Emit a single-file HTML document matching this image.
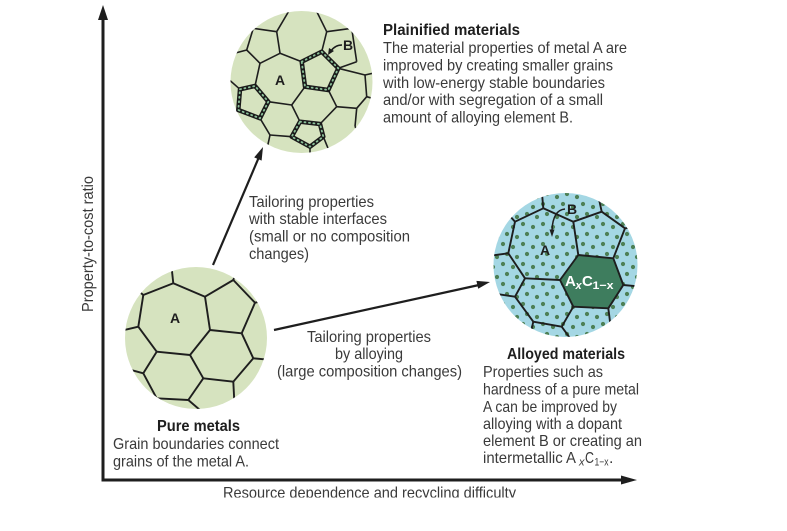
<!DOCTYPE html>
<html><head><meta charset="utf-8">
<style>
html,body{margin:0;padding:0;background:#fff;}
svg{display:block;}
text{font-family:"Liberation Sans Narrow","Liberation Sans",sans-serif;}
.b{font-size:16px;fill:#3a3a3a;}
.h{font-size:16px;font-weight:bold;fill:#1e1e1e;}
.g{font-weight:bold;font-size:14px;fill:#1e1e1e;}
</style></head>
<body>
<svg width="787" height="531" viewBox="0 0 787 531" xmlns="http://www.w3.org/2000/svg">
<defs>
<clipPath id="cp"><circle cx="196" cy="338" r="71"/></clipPath>
<clipPath id="cq"><circle cx="301.5" cy="82" r="71"/></clipPath>
<clipPath id="ca"><circle cx="565.5" cy="265" r="72"/></clipPath>
<pattern id="dots" width="20" height="20" patternUnits="userSpaceOnUse">
<circle cx="3" cy="4" r="2.1" fill="#4d8055"/>
<circle cx="13" cy="7" r="2.1" fill="#4d8055"/>
<circle cx="7" cy="14" r="2.1" fill="#4d8055"/>
<circle cx="17" cy="17" r="2.1" fill="#4d8055"/>
</pattern>
</defs>

<!-- axes -->
<g stroke="#1e1e1e" stroke-width="3" fill="none">
<polyline points="103,18 103,480 624,480"/>
</g>
<polygon points="103,5 98,20 108,20" fill="#1e1e1e"/>
<polygon points="637,480 621,475.5 621,484.5" fill="#1e1e1e"/>

<text class="b" transform="translate(93,312) rotate(-90)" x="0" y="0" textLength="136" lengthAdjust="spacingAndGlyphs">Property-to-cost ratio</text>
<text class="b" x="223" y="498" textLength="293" lengthAdjust="spacingAndGlyphs">Resource dependence and recycling difficulty</text>
<rect x="0" y="497.5" width="787" height="40" fill="#fff"/>

<!-- arrows -->
<g stroke="#1e1e1e" stroke-width="2.2">
<line x1="213" y1="265" x2="259" y2="157"/>
<line x1="274" y1="330" x2="479" y2="285"/>
</g>
<polygon points="263,147 261.6,160.6 254.2,157.4" fill="#1e1e1e"/>
<polygon points="490,282 478.2,288.7 476.4,280.9" fill="#1e1e1e"/>

<!-- pure metal circle -->
<circle cx="196" cy="338" r="71" fill="#d6e3bf"/>
<g clip-path="url(#cp)" stroke="#1e1e1e" stroke-width="1.9" fill="none" stroke-linejoin="round">
<line x1="173.3" y1="283.3" x2="171" y2="262"/>
<line x1="173.3" y1="283.3" x2="205" y2="296.7"/>
<line x1="173.3" y1="283.3" x2="143.3" y2="295"/>
<line x1="143.3" y1="295" x2="135" y2="288"/>
<line x1="205" y1="296.7" x2="233.3" y2="280"/>
<line x1="233.3" y1="280" x2="238" y2="268"/>
<line x1="233.3" y1="280" x2="255" y2="302.7"/>
<line x1="255" y1="302.7" x2="268" y2="300"/>
<line x1="255" y1="302.7" x2="241.7" y2="333.3"/>
<line x1="241.7" y1="333.3" x2="210" y2="330"/>
<line x1="210" y1="330" x2="205" y2="296.7"/>
<line x1="210" y1="330" x2="190" y2="355"/>
<line x1="190" y1="355" x2="156.7" y2="351.7"/>
<line x1="156.7" y1="351.7" x2="138.3" y2="326.7"/>
<line x1="138.3" y1="326.7" x2="143.3" y2="295"/>
<line x1="138.3" y1="326.7" x2="120" y2="331"/>
<line x1="241.7" y1="333.3" x2="253.3" y2="358.3"/>
<line x1="253.3" y1="358.3" x2="272" y2="360"/>
<line x1="253.3" y1="358.3" x2="233.3" y2="381.7"/>
<line x1="233.3" y1="381.7" x2="203.3" y2="378.3"/>
<line x1="233.3" y1="381.7" x2="235" y2="415"/>
<line x1="203.3" y1="378.3" x2="190" y2="355"/>
<line x1="203.3" y1="378.3" x2="188.3" y2="400"/>
<line x1="188.3" y1="400" x2="207" y2="416"/>
<line x1="188.3" y1="400" x2="156.7" y2="398.3"/>
<line x1="156.7" y1="398.3" x2="143.3" y2="373.3"/>
<line x1="143.3" y1="373.3" x2="156.7" y2="351.7"/>
<line x1="143.3" y1="373.3" x2="120" y2="367"/>
</g>
<text class="g" x="175" y="323" text-anchor="middle">A</text>

<!-- plainified circle -->
<circle cx="301.5" cy="82" r="71" fill="#d6e3bf"/>
<g clip-path="url(#cq)" stroke="#1e1e1e" stroke-width="1.6" fill="none" stroke-linejoin="round">
<line x1="253.3" y1="28.3" x2="276.7" y2="31.7"/>
<line x1="253.3" y1="28.3" x2="248" y2="20"/>
<line x1="276.7" y1="31.7" x2="280" y2="53.3"/>
<line x1="280" y1="53.3" x2="260" y2="63.3"/>
<line x1="260" y1="63.3" x2="246.7" y2="50"/>
<line x1="246.7" y1="50" x2="253.3" y2="28.3"/>
<line x1="246.7" y1="50" x2="228" y2="55"/>
<line x1="276.7" y1="31.7" x2="288.3" y2="12"/>
<line x1="288.3" y1="12" x2="288.3" y2="5"/>
<line x1="326.7" y1="31.7" x2="315" y2="8"/>
<line x1="326.7" y1="31.7" x2="351.7" y2="28.3"/>
<line x1="351.7" y1="28.3" x2="360" y2="22"/>
<line x1="326.7" y1="31.7" x2="321.7" y2="51.7"/>
<line x1="351.7" y1="28.3" x2="356.7" y2="61.7"/>
<line x1="356.7" y1="61.7" x2="338.3" y2="68.3"/>
<line x1="280" y1="53.3" x2="301.7" y2="61.7"/>
<line x1="338.3" y1="68.3" x2="365" y2="75"/>
<line x1="365" y1="75" x2="378" y2="72"/>
<line x1="365" y1="75" x2="366.7" y2="96.7"/>
<line x1="366.7" y1="96.7" x2="378" y2="100"/>
<line x1="366.7" y1="96.7" x2="356.7" y2="108.3"/>
<line x1="356.7" y1="108.3" x2="336.7" y2="106.7"/>
<line x1="336.7" y1="106.7" x2="328.3" y2="90"/>
<line x1="336.7" y1="106.7" x2="320" y2="124"/>
<line x1="356.7" y1="108.3" x2="355" y2="126.7"/>
<line x1="355" y1="126.7" x2="362" y2="135"/>
<line x1="323.3" y1="136.7" x2="332" y2="158"/>
<line x1="305" y1="86.7" x2="291.7" y2="105"/>
<line x1="291.7" y1="105" x2="268.3" y2="101.7"/>
<line x1="291.7" y1="105" x2="300" y2="121.7"/>
<line x1="260" y1="63.3" x2="255" y2="86"/>
<line x1="240" y1="89.3" x2="226" y2="77"/>
<line x1="238.3" y1="110" x2="226" y2="114"/>
<line x1="260" y1="118.3" x2="270" y2="135"/>
<line x1="270" y1="135" x2="265" y2="158"/>
<line x1="270" y1="135" x2="291.7" y2="136.7"/>
<line x1="310" y1="146.7" x2="310" y2="158"/>
</g>
<g fill="none" stroke-linejoin="round">
<polygon points="301.7,61.7 321.7,51.7 338.3,68.3 328.3,90 305,86.7" stroke="#1a1a1a" stroke-width="4.5"/>
<polygon points="240,89.3 255,86 268.3,101.7 260,118.3 238.3,110" stroke="#1a1a1a" stroke-width="4.5"/>
<polygon points="300,121.7 320,124 323.3,136.7 310,146.7 291.7,136.7" stroke="#1a1a1a" stroke-width="4.5"/>
<g stroke="#8cc19a" stroke-width="1.8" stroke-dasharray="1 3.5" stroke-linecap="round">
<polygon points="301.7,61.7 321.7,51.7 338.3,68.3 328.3,90 305,86.7"/>
<polygon points="240,89.3 255,86 268.3,101.7 260,118.3 238.3,110"/>
<polygon points="300,121.7 320,124 323.3,136.7 310,146.7 291.7,136.7"/>
</g>
</g>
<path d="M342 45 Q335 45 331 51" stroke="#1a1a1a" stroke-width="1.6" fill="none"/>
<polygon points="328,55 329,48 334,51" fill="#1a1a1a"/>
<text class="g" x="348" y="50" text-anchor="middle">B</text>
<text class="g" x="280" y="85" text-anchor="middle">A</text>

<!-- alloyed circle -->
<circle cx="565.5" cy="265" r="72" fill="#a4d7e4"/>
<circle cx="565.5" cy="265" r="72" fill="url(#dots)"/>
<g clip-path="url(#ca)" stroke="#1e1e1e" stroke-width="1.9" fill="none" stroke-linejoin="round">
<line x1="543.3" y1="208.3" x2="541.7" y2="190"/>
<line x1="543.3" y1="208.3" x2="515" y2="221.7"/>
<line x1="543.3" y1="208.3" x2="573.3" y2="221.7"/>
<line x1="515" y1="221.7" x2="508" y2="214"/>
<line x1="515" y1="221.7" x2="508.3" y2="253.3"/>
<line x1="508.3" y1="253.3" x2="488" y2="256"/>
<line x1="508.3" y1="253.3" x2="525" y2="278.3"/>
<line x1="525" y1="278.3" x2="560" y2="280"/>
<line x1="525" y1="278.3" x2="515" y2="296.7"/>
<line x1="515" y1="296.7" x2="490" y2="293"/>
<line x1="515" y1="296.7" x2="533.3" y2="321.7"/>
<line x1="533.3" y1="321.7" x2="561.7" y2="326.7"/>
<line x1="533.3" y1="321.7" x2="528" y2="345"/>
<line x1="561.7" y1="326.7" x2="573.3" y2="306.7"/>
<line x1="561.7" y1="326.7" x2="575" y2="345"/>
<line x1="573.3" y1="221.7" x2="601.7" y2="211.7"/>
<line x1="601.7" y1="211.7" x2="597" y2="190"/>
<line x1="601.7" y1="211.7" x2="625" y2="228.3"/>
<line x1="625" y1="228.3" x2="645" y2="226"/>
<line x1="625" y1="228.3" x2="613.3" y2="258.3"/>
<line x1="573.3" y1="221.7" x2="578.3" y2="255"/>
<line x1="623.3" y1="285" x2="645" y2="287"/>
<line x1="608.3" y1="308.3" x2="613" y2="345"/>
</g>
<polygon points="578.3,255 613.3,258.3 623.3,285 608.3,308.3 573.3,306.7 560,280" fill="#3e7d5e" stroke="#1e1e1e" stroke-width="1.9" stroke-linejoin="round"/>
<path d="M565 209 Q553 210 552 230" stroke="#1e1e1e" stroke-width="1.5" fill="none"/>
<polygon points="552,237 549.5,229.5 554.5,229.5" fill="#1e1e1e"/>
<text class="g" x="572" y="214" text-anchor="middle">B</text>
<text class="g" x="545" y="255" text-anchor="middle">A</text>
<g fill="#fff" font-weight="bold">
<text x="565" y="286" font-size="15">A</text>
<text x="575.5" y="289" font-size="11" font-style="italic">x</text>
<text x="582" y="286" font-size="15">C</text>
<text x="592.5" y="289" font-size="11" textLength="21" lengthAdjust="spacingAndGlyphs">1−x</text>
</g>

<!-- Plainified text -->
<text class="h" x="383" y="35" textLength="137" lengthAdjust="spacingAndGlyphs">Plainified materials</text>
<text class="b" x="383" y="53" textLength="244" lengthAdjust="spacingAndGlyphs">The material properties of metal A are</text>
<text class="b" x="383" y="70.5" textLength="230" lengthAdjust="spacingAndGlyphs">improved by creating smaller grains</text>
<text class="b" x="383" y="88" textLength="222" lengthAdjust="spacingAndGlyphs">with low-energy stable boundaries</text>
<text class="b" x="383" y="105" textLength="220" lengthAdjust="spacingAndGlyphs">and/or with segregation of a small</text>
<text class="b" x="383" y="122.5" textLength="190" lengthAdjust="spacingAndGlyphs">amount of alloying element B.</text>

<!-- arrow 1 label -->
<text class="b" x="249" y="207" textLength="125" lengthAdjust="spacingAndGlyphs">Tailoring properties</text>
<text class="b" x="249" y="224" textLength="138" lengthAdjust="spacingAndGlyphs">with stable interfaces</text>
<text class="b" x="249" y="241.5" textLength="161" lengthAdjust="spacingAndGlyphs">(small or no composition</text>
<text class="b" x="249" y="259" textLength="60" lengthAdjust="spacingAndGlyphs">changes)</text>

<!-- arrow 2 label -->
<text class="b" x="307" y="342" textLength="124" lengthAdjust="spacingAndGlyphs">Tailoring properties</text>
<text class="b" x="335" y="359" textLength="68" lengthAdjust="spacingAndGlyphs">by alloying</text>
<text class="b" x="277" y="376.5" textLength="185" lengthAdjust="spacingAndGlyphs">(large composition changes)</text>

<!-- Pure metals text -->
<text class="h" x="157" y="431" textLength="83" lengthAdjust="spacingAndGlyphs">Pure metals</text>
<text class="b" x="113" y="449" textLength="166" lengthAdjust="spacingAndGlyphs">Grain boundaries connect</text>
<text class="b" x="113" y="466.5" textLength="136" lengthAdjust="spacingAndGlyphs">grains of the metal A.</text>

<!-- Alloyed text -->
<text class="h" x="507" y="359" textLength="118" lengthAdjust="spacingAndGlyphs">Alloyed materials</text>
<text class="b" x="483" y="377" textLength="120" lengthAdjust="spacingAndGlyphs">Properties such as</text>
<text class="b" x="483" y="394.5" textLength="156" lengthAdjust="spacingAndGlyphs">hardness of a pure metal</text>
<text class="b" x="483" y="412" textLength="134" lengthAdjust="spacingAndGlyphs">A can be improved by</text>
<text class="b" x="483" y="429" textLength="139" lengthAdjust="spacingAndGlyphs">alloying with a dopant</text>
<text class="b" x="483" y="446" textLength="159" lengthAdjust="spacingAndGlyphs">element B or creating an</text>
<text class="b" x="483" y="463" textLength="93" lengthAdjust="spacingAndGlyphs">intermetallic A</text>
<text class="b" x="579" y="465.5" style="font-size:11px;font-style:italic">x</text>
<text class="b" x="585" y="463" textLength="9" lengthAdjust="spacingAndGlyphs">C</text>
<text class="b" x="594.5" y="465.5" textLength="14" lengthAdjust="spacingAndGlyphs" style="font-size:11px">1−x</text>
<text class="b" x="609" y="463">.</text>
</svg>
</body></html>
